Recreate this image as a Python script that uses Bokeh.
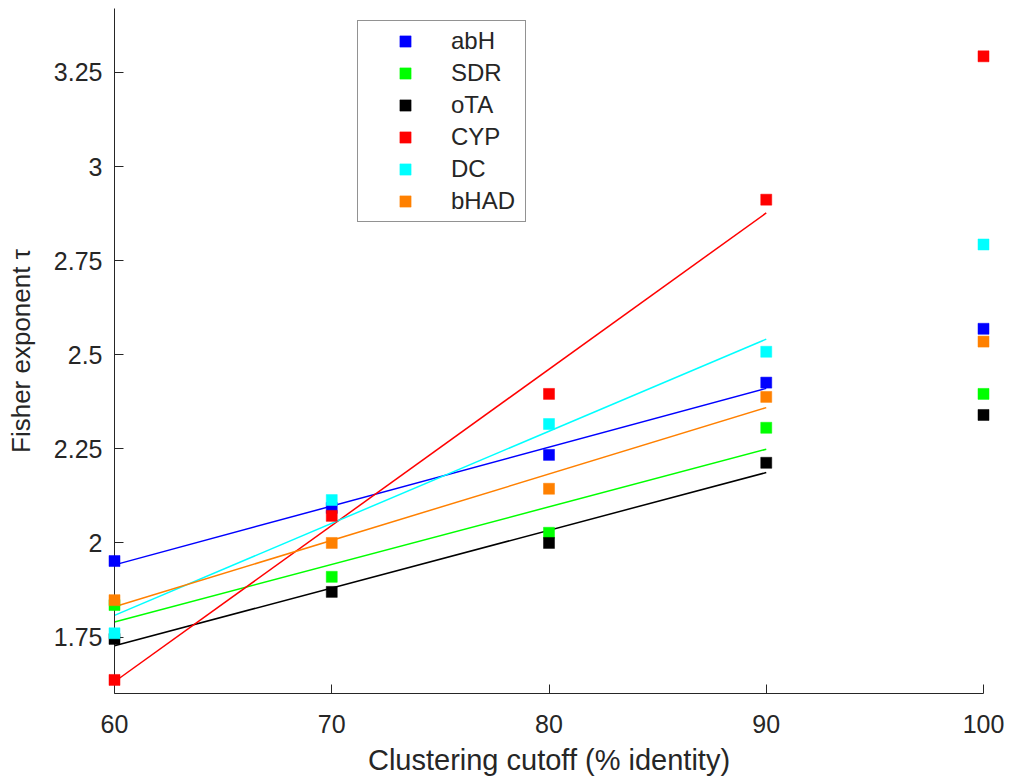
import numpy as np
from bokeh.plotting import figure
from bokeh.models import Range1d, FixedTicker, Legend, LegendItem
from bokeh.embed import file_html
from bokeh.resources import INLINE

# ---- data ----
cutoff = [60, 70, 80, 90, 100]
fit_cutoff = [60, 70, 80, 90]
series_names = ["abH", "SDR", "oTA", "CYP", "DC", "bHAD"]
abH = [1.952, 2.093, 2.234, 2.426, 2.569]
SDR = [1.835, 1.910, 2.027, 2.306, 2.396]
oTA = [1.745, 1.870, 2.000, 2.213, 2.340]
CYP = [1.636, 2.072, 2.396, 2.912, 3.293]
DC = [1.760, 2.114, 2.316, 2.508, 2.793]
bHAD = [1.848, 2.000, 2.144, 2.388, 2.535]
series_values = [abH, SDR, oTA, CYP, DC, bHAD]
series_colors = ["#0000ff", "#00ff00", "#000000", "#ff0000", "#00ffff", "#ff8000"]
x_ticks = [60, 70, 80, 90, 100]
x_tick_labels = ["60", "70", "80", "90", "100"]
y_ticks = [1.75, 2.0, 2.25, 2.5, 2.75, 3.0, 3.25]
y_tick_labels = ["1.75", "2", "2.25", "2.5", "2.75", "3", "3.25"]

FONT = "Liberation Sans"
TXT = "#262626"

p = figure(width=1019, height=778, output_backend="svg", toolbar_location=None,
           x_range=Range1d(60, 100), y_range=Range1d(1.6, 3.42),
           min_border_left=114, min_border_right=36, min_border_top=8,
           min_border_bottom=85)
p.outline_line_color = None
p.grid.grid_line_color = None
p.background_fill_color = "white"

scatter_renderers = []
for name, vals, col in zip(series_names, series_values, series_colors):
    n = len(fit_cutoff)
    coef = np.polyfit(fit_cutoff, vals[:n], 1)
    xs = [fit_cutoff[0], fit_cutoff[-1]]
    ys = list(np.polyval(coef, xs))
    p.line(xs, ys, line_color=col, line_width=1.5)
for name, vals, col in zip(series_names, series_values, series_colors):
    r = p.scatter(cutoff, vals, marker="square", size=11, fill_color=col,
                  line_color=col, line_width=0.5, level="overlay")
    scatter_renderers.append(r)

for ax in (p.xaxis[0], p.yaxis[0]):
    ax.axis_line_color = TXT
    ax.major_tick_line_color = TXT
    ax.minor_tick_line_color = None
    ax.major_tick_in = 9
    ax.major_tick_out = 0
    ax.major_label_text_font = FONT
    ax.major_label_text_font_size = "25px"
    ax.major_label_text_color = TXT
    ax.axis_label_text_font = FONT
    ax.axis_label_text_color = TXT
    ax.axis_label_text_font_style = "normal"

p.xaxis[0].ticker = FixedTicker(ticks=x_ticks)
p.xaxis[0].major_label_overrides = {t: l for t, l in zip(x_ticks, x_tick_labels)}
p.xaxis[0].major_label_standoff = 21
p.xaxis[0].axis_label = "Clustering cutoff (% identity)"
p.xaxis[0].axis_label_text_font_size = "29px"
p.xaxis[0].axis_label_standoff = 8

p.yaxis[0].ticker = FixedTicker(ticks=y_ticks)
p.yaxis[0].major_label_overrides = {t: l for t, l in zip(y_ticks, y_tick_labels)}
p.yaxis[0].major_label_standoff = 12
p.yaxis[0].axis_label = "Fisher exponent τ"
p.yaxis[0].axis_label_text_font_size = "26px"
p.yaxis[0].axis_label_standoff = 15

legend = Legend(items=[LegendItem(label=n, renderers=[r])
                       for n, r in zip(series_names, scatter_renderers)],
                location=(243, 471))
legend.label_text_font = FONT
legend.label_text_font_size = "24px"
legend.label_text_color = TXT
legend.glyph_height = 28
legend.label_height = 28
legend.glyph_width = 82
legend.label_width = 68
legend.spacing = 4
legend.padding = 6
legend.label_standoff = 5
legend.border_line_color = TXT
legend.border_line_width = 1
legend.background_fill_color = "white"
legend.background_fill_alpha = 1
legend.margin = 0
p.add_layout(legend, "center")

open("out.html", "w").write(file_html(p, INLINE))
